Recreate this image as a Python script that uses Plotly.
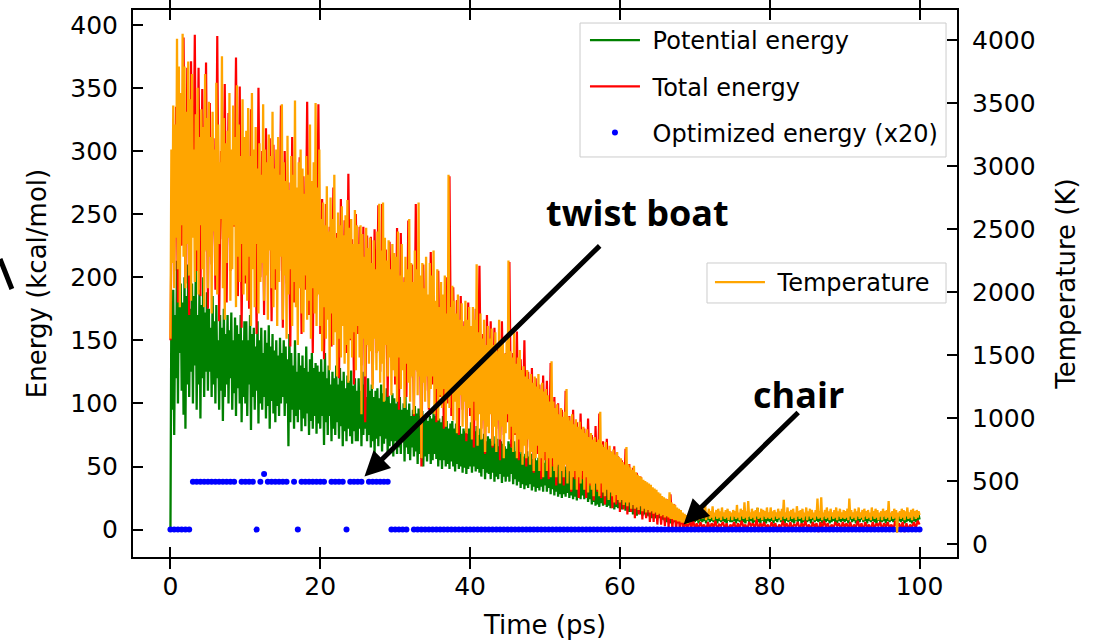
import plotly.graph_objects as go

# Temperature (K), frames every 0.125 ps
temperature_k = [
    1630,3130,2230,3480,2030,3330,2430,4010,2180,3790,1880,3580,2530,4050,2280,3790,2030,3430,2380,3830,2130,3530,1930,3730,2430,3130,2080,3410,2330,3620,1980,3230,2530,3450,2180,3310,1880,3730,2330,3380,
    2030,3510,2280,3230,1830,3430,2480,3130,2130,3660,1980,3330,2380,3030,2580,3870,2030,3380,1780,3180,2230,3280,2430,3580,1930,3130,2180,3480,2530,3230,1880,3640,2280,3330,2080,3080,2380,3530,1980,3230,
    2130,3280,1930,3460,2280,3080,1730,3580,2180,3130,1880,3310,2380,2980,1830,3180,2080,2930,2230,3490,1930,3130,2130,3030,1780,3250,2330,3080,2030,3430,1880,2980,2180,3130,1730,3230,2080,2930,2280,3490,
    1780,3030,2130,2880,1630,3240,1980,2810,2180,3080,1730,2930,2080,3520,1880,2830,1580,3030,2030,3130,1830,2980,1680,2780,2130,3080,1780,2930,1930,3330,1630,2880,2030,3030,1830,3500,1730,2830,1980,3130,
    1730,2580,1530,2710,1880,2530,1630,2840,1780,2480,1380,2750,1830,2580,1580,2930,1680,2430,1330,2630,1630,2530,1480,2680,1730,2450,1430,2610,1580,2730,1280,2510,1630,2580,1480,2380,1680,2650,1380,2530,
    1730,2380,1480,2530,1030,2460,1630,2280,1330,2510,1580,2350,1430,2430,1530,2230,1230,2410,1630,2180,1380,2480,1530,2700,1280,2330,1430,2710,1130,2430,1580,2250,1330,2410,1480,2180,1180,2380,1380,2310,
    1330,2280,1130,2480,1480,2130,1230,2380,1380,2080,1080,2280,1430,2180,1280,2580,1130,2230,1330,2080,1030,2330,1380,2180,1180,2710,1330,2130,680,2230,1280,2030,1130,2280,1330,1980,1080,2230,1230,2130,
    1330,2330,1030,1930,1230,2180,980,1880,1180,2080,1080,1980,1230,2130,930,1830,1180,2930,1080,1880,1230,2050,980,1930,1130,1830,880,1980,1080,1780,1180,1910,930,1730,1130,1930,880,1780,1080,1880,
    1080,1730,830,1880,1130,1780,980,2220,780,1680,1030,1830,830,1630,980,1780,730,1580,930,1730,880,1630,1030,1710,780,1580,930,1680,730,1530,980,1780,830,1580,930,1630,680,1510,880,1610,
    1030,2250,830,1530,930,1480,730,1700,880,1430,680,1480,830,1540,730,1380,630,1410,780,1330,680,1380,830,1310,630,1350,730,1280,580,1330,680,1250,780,1350,580,1230,680,1280,530,1210,
    730,1230,580,1180,680,1130,530,1450,680,1130,580,1080,530,1110,630,1030,480,1080,580,1010,530,1050,630,1230,480,1010,580,980,430,1030,530,950,580,990,430,930,530,970,480,910,
    580,930,430,880,530,910,410,850,480,880,430,830,380,850,480,810,430,830,380,1050,480,790,410,770,380,810,430,750,350,780,410,730,380,750,330,710,390,730,350,690,
    330,680,350,650,310,630,330,770,300,630,330,610,280,590,310,620,280,570,290,550,270,540,300,530,260,510,280,500,250,490,270,480,250,470,260,450,240,440,250,430,
    230,410,240,400,220,380,230,370,210,360,220,350,210,410,200,330,200,320,190,310,190,290,180,280,180,270,170,250,170,240,160,230,160,220,170,230,180,250,190,260,
    200,260,210,280,190,250,220,290,200,270,210,330,190,250,220,280,200,260,210,300,190,250,220,270,200,280,210,260,190,290,220,250,200,270,210,280,190,260,220,250,
    190,270,220,260,200,310,210,250,190,280,220,270,200,330,210,260,190,340,220,250,200,280,210,260,190,270,220,290,200,250,210,280,190,270,220,260,200,290,210,250,
    200,290,210,260,190,270,220,250,200,280,210,260,190,280,220,350,200,250,210,290,190,260,220,270,200,280,210,250,190,300,220,260,200,270,210,280,190,250,220,290,
    190,260,220,280,200,270,210,250,190,270,220,360,200,260,210,370,190,250,220,270,200,290,210,260,190,280,220,250,200,270,210,290,190,260,220,280,200,250,210,270,
    200,260,210,280,190,360,220,270,200,250,210,280,190,260,220,290,200,250,210,270,190,280,220,260,200,270,210,250,190,290,220,260,200,280,210,270,190,250,220,260,
    190,280,220,260,200,270,210,340,190,250,220,260,200,280,210,270,90,250,220,260,200,280,210,270,190,260,220,290,200,250,210,270,190,280,220,260,200,270,210,260,
    230,
]

# Potential energy (kcal/mol), frames every 0.125 ps
potential_energy = [
    0,181,95,190,75,170,120,213,100,205,140,195,110,180,91,200,80,185,115,210,105,175,125,195,100,185,130,205,95,170,115,190,88,178,120,200,105,172,125,188,
    110,175,125,160,105,185,115,165,100,178,120,150,95,170,110,160,86,175,105,155,115,170,100,158,120,172,95,150,108,168,90,162,112,155,100,170,85,150,105,165,
    100,165,90,150,115,170,79,155,105,160,95,145,110,165,84,150,100,160,95,140,105,158,88,148,98,162,80,145,102,155,92,142,85,150,98,138,90,152,100,140,
    105,150,90,145,100,135,66,155,85,140,95,130,80,150,90,125,85,140,95,130,78,138,88,128,82,145,92,125,75,135,86,140,80,128,90,132,76,130,84,125,
    80,135,90,125,67,140,85,120,75,130,90,115,70,125,80,120,75,130,85,115,72,128,82,118,66,125,78,112,70,122,80,118,74,126,68,114,78,120,70,110,
    70,120,80,110,66,125,75,115,80,105,70,120,75,110,65,115,70,105,60,110,72,112,66,104,74,115,62,108,68,102,72,112,60,106,66,100,70,108,58,104,
    70,100,60,110,65,105,60,95,70,100,54,105,65,95,60,100,55,90,65,95,58,98,62,92,52,96,60,90,56,94,50,88,58,92,54,86,60,90,52,88,
    55,95,60,90,56,92,50,88,55,85,48,90,55,82,50,86,52,80,48,84,54,86,50,80,46,84,52,78,48,82,50,76,45,80,49,78,44,76,48,80,
    50,85,45,80,50,78,46,82,48,75,45,80,42,72,48,76,40,70,45,74,44,72,40,70,45,74,38,68,42,72,40,66,44,70,37,68,42,66,38,64,
    42,70,38,68,44,65,36,70,40,62,35,66,38,60,33,64,36,58,32,60,35,62,33,58,36,60,31,56,34,58,30,55,33,57,31,54,34,56,30,53,
    35,58,30,62,33,55,28,57,32,52,27,55,30,50,26,52,28,48,25,50,28,50,26,47,29,49,25,46,27,48,24,45,26,47,23,44,25,46,24,43,
    27,46,24,48,26,44,22,45,24,40,20,42,22,38,19,36,20,34,18,35,21,37,19,34,20,36,18,33,19,34,17,32,19,33,16,31,18,32,17,30,
    18,32,16,30,17,28,15,27,16,25,14,24,14,22,12,21,12,20,11,19,13,21,12,19,11,20,12,18,10,19,11,17,10,18,9,16,10,17,9,15,
    10,18,9,16,9,15,8,14,7,12,6,11,6,10,5,9,5,9,6,10,6,11,5,10,6,9,5,10,6,11,5,9,6,10,5,11,6,10,5,9,
    6,10,7,11,5,9,7,12,6,10,7,11,5,10,8,12,6,10,7,11,6,11,7,10,5,12,7,10,6,11,7,12,6,10,5,11,7,10,6,12,
    6,11,7,10,5,12,7,10,6,11,7,12,6,10,5,11,7,10,6,12,7,11,5,10,6,11,7,17,6,10,5,11,7,12,6,10,5,11,7,12,
    6,10,7,11,5,12,7,10,6,11,8,12,6,10,7,11,5,12,7,10,6,11,7,12,6,10,5,11,7,10,6,12,7,11,5,10,6,11,7,12,
    6,11,7,12,5,10,8,11,6,12,7,10,6,11,7,12,5,10,7,11,6,12,7,10,5,11,6,12,7,10,6,11,5,12,7,10,6,11,7,12,
    6,12,7,10,5,11,8,12,6,10,7,11,5,13,7,10,6,11,8,12,6,10,7,11,5,12,7,10,6,11,7,12,6,10,5,11,7,12,6,10,
    6,10,7,11,5,12,7,10,6,11,7,12,6,10,8,11,5,10,7,11,6,12,7,10,5,11,6,12,7,10,6,11,5,12,7,10,6,11,7,12,
    8,
]

# Total energy (kcal/mol), frames every 0.25 ps
total_energy = [
    150, 300, 205, 335, 180, 320, 225, 390, 195, 366, 170, 371, 235, 392, 205, 366, 185, 349, 220, 370,
    175, 338, 210, 310, 190, 391, 165, 300, 230, 353, 180, 330, 205, 290, 240, 374, 185, 351, 160, 305,
    195, 315, 175, 333, 210, 295, 155, 350, 200, 300, 170, 318, 220, 310, 165, 305, 190, 280, 205, 336,
    160, 300, 195, 275, 145, 311, 180, 268, 200, 295, 155, 280, 190, 339, 170, 270, 140, 290, 185, 337,
    155, 262, 135, 258, 170, 240, 145, 271, 160, 235, 120, 262, 165, 245, 140, 282, 150, 230, 115, 250,
    155, 240, 130, 240, 85, 233, 145, 232, 115, 238, 140, 257, 125, 258, 135, 222, 105, 228, 145, 205,
    115, 239, 95, 235, 130, 200, 105, 245, 120, 210, 90, 258, 125, 190, 50, 210, 110, 185, 95, 220,
    115, 180, 85, 205, 105, 175, 80, 200, 100, 280, 90, 192, 105, 182, 75, 185, 95, 165, 70, 180,
    90, 160, 65, 175, 95, 209, 80, 155, 60, 170, 85, 165, 65, 160, 80, 145, 55, 165, 75, 140,
    85, 212, 65, 140, 75, 157, 55, 135, 70, 150, 50, 125, 65, 128, 45, 120, 60, 115, 40, 122,
    55, 118, 40, 132, 50, 105, 35, 100, 50, 95, 35, 110, 45, 90, 30, 95, 40, 85, 25, 92,
    40, 80, 25, 88, 35, 75, 23, 82, 30, 92, 25, 70, 20, 72, 25, 62, 17, 66, 20, 58,
    14, 55, 16, 64, 12, 52, 14, 49, 9, 45, 12, 42, 8, 38, 9, 35, 6, 32, 6, 30,
    4, 28, 4, 25, 3, 24, 2, 28, 1, 20, 0, 16, 0, 12, -1, 8, 0, 10, 0, 8,
    1, 5, 0, 6, 2, 4, -1, 6, 1, 5, 2, 7, 0, 4, 3, 6, 1, 5, -1, 4,
    2, 6, 0, 5, 1, 7, 2, 4, 0, 6, 3, 5, 1, 8, 0, 5, 2, 6, 1, 4,
    0, 6, 2, 5, -1, 4, 1, 7, 2, 5, 0, 6, 1, 4, 3, 6, 0, 5, 2, 7,
    1, 4, 0, 6, 2, 5, -2, 6, 1, 7, 2, 5, 0, 4, 1, 6, 3, 5, 0, 6,
    2, 5, 1, 6, 0, 4, 2, 7, 1, 5, -1, 6, 2, 4, 0, 6, 1, 5, 3, 6,
    0, 5, 2, 6, 1, 4, 0, 7, 2, 5, 1, 6, -2, 5, 0, 4, 2, 6, 1, 7,
    4,
]

# Optimized energy (x20, kcal/mol), one optimization every 0.5 ps; None = no point
optimized_energy_x20 = [
    0, 0, 0, 0, 0, 0,
    38, 38, 38, 38, 38, 38, 38, 38, 38, 38, 38, 38,
    None, 38, 38, 38, 38, 0, 38, 44,
    38, 38, 38, 38, 38, 38, None, 38, 0,
    38, 38, 38, 38, 38, 38, 38, None,
    38, 38, 38, 38, 0, 38, 38, 38, 38, None,
    38, 38, 38, 38, 38, 38,
    0, 0, 0, 0, 0, None,
    0, 0, 0, 0, 0, 0, 0, 0, 0, 0, 0, 0, 0, 0, 0, 0, 0, 0, 0, 0,
    0, 0, 0, 0, 0, 0, 0, 0, 0, 0, 0, 0, 0, 0, 0, 0, 0, 0, 0, 0,
    0, 0, 0, 0, 0, 0, 0, 0, 0, 0, 0, 0, 0, 0, 0, 0, 0, 0, 0, 0,
    0, 0, 0, 0, 0, 0, 0, 0, 0, 0, 0, 0, 0, 0, 0, 0, 0, 0, 0, 0,
    0, 0, 0, 0, 0, 0, 0, 0, 0, 0, 0, 0, 0, 0, 0, 0, 0, 0, 0, 0,
    0, 0, 0, 0, 0, 0, 0, 0, 0, 0, 0, 0, 0, 0, 0, 0, 0, 0, 0, 0,
    0, 0, 0, 0, 0, 0, 0, 0, 0, 0, 0, 0, 0, 0, 0, 0,
]

# Sampling grids (ps)
time_temp = [k * 0.125 for k in range(len(temperature_k))]
time_pot = [k * 0.125 for k in range(len(potential_energy))]
time_tot = [k * 0.25 for k in range(len(total_energy))]
time_opt = [k * 0.5 for k in range(len(optimized_energy_x20))]

x_ticks = [0, 20, 40, 60, 80, 100]
energy_ticks = [0, 50, 100, 150, 200, 250, 300, 350, 400]
temp_ticks = [0, 500, 1000, 1500, 2000, 2500, 3000, 3500, 4000]

FONT = "DejaVu Sans"
NB = "\u00a0"

fig = go.Figure()
fig.add_trace(go.Scatter(x=time_pot, y=potential_energy, mode="lines", name=NB + "Potential energy",
                         line=dict(color="#008000", width=2.3), legend="legend", legendgroup="a"))
fig.add_trace(go.Scatter(x=time_tot, y=total_energy, mode="lines", name=NB + "Total energy",
                         line=dict(color="#ff0000", width=2.2), legend="legend", legendgroup="b"))
fig.add_trace(go.Scatter(x=time_opt, y=optimized_energy_x20, mode="markers", name=NB + "Optimized energy (x20)",
                         marker=dict(color="#0000ff", size=6), legend="legend", legendgroup="c"))
fig.add_trace(go.Scatter(x=time_temp, y=temperature_k, mode="lines", name=NB + "Temperature", yaxis="y2",
                         line=dict(color="#ffa500", width=2.3), legend="legend2"))

axis_common = dict(showgrid=False, zeroline=False, showline=True, linecolor="black", linewidth=2,
                   ticks="inside", ticklen=10, tickwidth=1.5, tickcolor="black", automargin=False,
                   tickfont=dict(family=FONT, size=25, color="black"))

fig.update_layout(
    width=1108, height=640,
    margin=dict(l=133, r=151, t=10, b=83),
    paper_bgcolor="white", plot_bgcolor="white",
    font=dict(family=FONT, size=24, color="black"),
    xaxis=dict(range=[-5, 105], tickvals=x_ticks, mirror="allticks",
               title=dict(text="Time (ps)", font=dict(family=FONT, size=26), standoff=18),
               ticklabelstandoff=6, **axis_common),
    yaxis=dict(range=[-21.7, 411.7], tickvals=energy_ticks,
               title=dict(text="Energy (kcal/mol)", font=dict(family=FONT, size=26), standoff=16),
               ticklabelstandoff=8, **axis_common),
    yaxis2=dict(range=[-103, 4238], tickvals=temp_ticks, overlaying="y", side="right",
                title=dict(text="Temperature (K)", font=dict(family=FONT, size=26), standoff=22),
                ticklabelstandoff=8, **axis_common),
    legend=dict(x=0.5485, y=0.9854, xanchor="left", yanchor="top", bgcolor="rgba(0,0,0,0)",
                borderwidth=0, font=dict(family=FONT, size=24),
                itemwidth=50, tracegroupgap=12, traceorder="grouped"),
    legend2=dict(x=0.7002, y=0.543, xanchor="left", yanchor="top", bgcolor="rgba(0,0,0,0)",
                 borderwidth=0, font=dict(family=FONT, size=24), itemwidth=50),
    showlegend=True,
)

# legend frames
fig.add_shape(type="rect", xref="paper", yref="paper", x0=0.5425, x1=0.9867, y0=0.7313, y1=0.9762,
              line=dict(color="#cccccc", width=1), fillcolor="white", layer="above")
fig.add_shape(type="rect", xref="paper", yref="paper", x0=0.6966, x1=0.9867, y0=0.4644, y1=0.5375,
              line=dict(color="#cccccc", width=1), fillcolor="white", layer="above")

ann_font = dict(family="Open Sans", size=36, color="black", weight="bold")
fig.add_annotation(x=62.3, y=251, xref="x", yref="y", text="twist boat", showarrow=False, font=ann_font)
fig.add_annotation(x=83.9, y=107, xref="x", yref="y", text="chair", showarrow=False, font=ann_font)
fig.add_annotation(x=25.9, y=42, xref="x", yref="y", ax=57.5, ay=226, axref="x", ayref="y", text="",
                   showarrow=True, arrowhead=2, arrowsize=1, arrowwidth=5, arrowcolor="black")
fig.add_annotation(x=68.5, y=4, xref="x", yref="y", ax=84.0, ay=94, axref="x", ayref="y", text="",
                   showarrow=True, arrowhead=2, arrowsize=1, arrowwidth=5, arrowcolor="black")

# stray arrow fragment at the left edge of the original figure
fig.add_shape(type="line", xref="paper", yref="paper", x0=-0.1614, y0=0.545, x1=-0.147, y1=0.49,
              line=dict(color="black", width=5))

fig.write_html("out.html")
